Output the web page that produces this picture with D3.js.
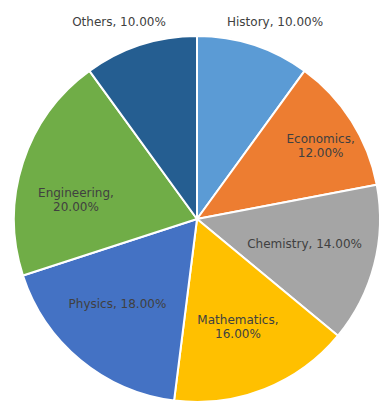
<!DOCTYPE html>
<html>
<head>
<meta charset="utf-8">
<script src="https://cdn.jsdelivr.net/npm/d3@7"></script>
<style>
  html, body { margin: 0; padding: 0; background: #fff; }
  svg { display: block; }
</style>
</head>
<body>
<svg id="chart" width="391" height="419"></svg>
<script>
// ---- data ----
const categories = ["History", "Economics", "Chemistry", "Mathematics", "Physics", "Engineering", "Others"];
const shares = [10, 12, 14, 16, 18, 20, 10];

// ---- styles / layout ----
const colors = ["#5B9BD5", "#ED7D31", "#A5A5A5", "#FFC000", "#4472C4", "#70AD47", "#255E91"];
const labelRadiusFactor = [1.158, 0.784, 0.603, 0.63, 0.635, 0.67, 1.158];
const labelAngleOffsetDeg = [3.6, 1.9, -1.5, 0.8, 3.6, -8.8, -3.6];
const labelWrap = [false, true, false, true, false, true, false];

const W = 391, H = 419;
const cx = 197, cy = 219, R = 183;

const svg = d3.select("#chart");
const g = svg.append("g").attr("transform", `translate(${cx},${cy})`);

const data = categories.map((c, i) => ({ name: c, value: shares[i], i }));
const total = d3.sum(shares);

const pie = d3.pie().value(d => d.value).sort(null);
const arc = d3.arc().innerRadius(0).outerRadius(R);
const arcs = pie(data);

g.selectAll("path.slice")
  .data(arcs)
  .join("path")
  .attr("class", "slice")
  .attr("d", arc)
  .attr("fill", d => colors[d.data.i])
  .attr("stroke", "#fff")
  .attr("stroke-width", 2)
  .attr("stroke-linejoin", "round");

const fmt = d3.format(".2%");

const labels = g.selectAll("text.lbl")
  .data(arcs)
  .join("text")
  .attr("class", "lbl")
  .attr("font-family", "DejaVu Sans, sans-serif")
  .attr("font-size", 12)
  .attr("fill", "#404040")
  .attr("text-anchor", "middle")
  .attr("transform", d => {
    const i = d.data.i;
    const a = (d.startAngle + d.endAngle) / 2 + labelAngleOffsetDeg[i] * Math.PI / 180;
    const r = R * labelRadiusFactor[i];
    return `translate(${r * Math.sin(a)},${-r * Math.cos(a)})`;
  });

labels.each(function(d) {
  const i = d.data.i;
  const t = d3.select(this);
  const pct = fmt(d.data.value / total);
  if (labelWrap[i]) {
    t.append("tspan").attr("x", 0).attr("dy", "-0.23em").text(d.data.name + ",");
    t.append("tspan").attr("x", 0).attr("dy", "1.17em").text(pct);
  } else {
    t.append("tspan").attr("x", 0).attr("dy", "0.36em").text(d.data.name + ", " + pct);
  }
});
</script>
</body>
</html>
